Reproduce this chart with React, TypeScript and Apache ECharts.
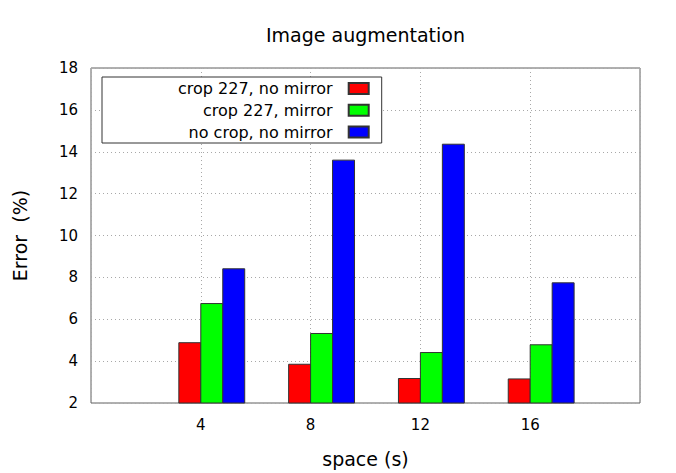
import React, { useEffect, useRef } from "react";
import * as echarts from "echarts";

const titleText = "Image augmentation";
const xName = "space (s)";
const yName = "Error  (%)";
const spaces = [4, 8, 12, 16];
const seriesNames = ["crop 227, no mirror", "crop 227, mirror", "no crop, no mirror"];
const seriesColors = ["#ff0000", "#00ff00", "#0000ff"];
const cropNoMirror = [4.88, 3.85, 3.17, 3.15];
const cropMirror = [6.75, 5.32, 4.41, 4.78];
const noCropNoMirror = [8.41, 13.6, 14.36, 7.74];
const yMin = 2;
const yMax = 18;
const xMin = 0;
const xMax = 20;

const FONT = "'DejaVu Sans', sans-serif";

export default function App() {
  const ref = useRef<HTMLDivElement>(null);
  useEffect(() => {
    document.body.style.margin = "0";
    const chart = echarts.init(ref.current!, null, { renderer: "svg" });
    const allValues = [cropNoMirror, cropMirror, noCropNoMirror];
    const barW = 0.8;
    const offsets = [-0.8, 0, 0.8];
    const series = allValues.map((vals, si) => ({
      type: "custom",
      name: seriesNames[si],
      data: spaces.map((s, i) => [s, vals[i]]),
      itemStyle: { color: seriesColors[si], borderColor: "#333333", borderWidth: 1 },
      renderItem: (params: any, api: any) => {
        const x = api.value(0) + offsets[si];
        const y = api.value(1);
        const p1 = api.coord([x, y]);
        const p2 = api.coord([x + barW, yMin]);
        return {
          type: "rect",
          shape: { x: p1[0], y: p1[1], width: p2[0] - p1[0], height: p2[1] - p1[1] },
          style: { fill: seriesColors[si], stroke: "#333333", lineWidth: 1 },
        };
      },
    }));
    chart.setOption({
      animation: false,
      textStyle: { fontFamily: FONT },
      graphic: [
        {
          type: "text",
          x: 365.5,
          y: 35,
          style: {
            text: titleText,
            align: "center",
            verticalAlign: "middle",
            font: `19px ${FONT}`,
            fill: "#000",
          },
        },
      ],
      grid: {
        left: 91,
        top: 68,
        right: 36,
        bottom: 70,
        show: true,
        borderColor: "#606060",
        borderWidth: 1,
        backgroundColor: "transparent",
      },
      legend: {
        orient: "vertical",
        align: "right",
        left: 102,
        top: 77,
        icon: "rect",
        itemWidth: 20,
        itemHeight: 11,
        itemGap: 5.7,
        padding: [3.6, 12, 3, 76],
        backgroundColor: "#fff",
        borderColor: "#333",
        borderWidth: 1,
        textStyle: { fontFamily: FONT, fontSize: 16, color: "#000", padding: [0, 11, 0, 0] },
        data: seriesNames,
      },
      xAxis: {
        type: "value",
        min: xMin,
        max: xMax,
        interval: 4,
        name: xName,
        nameLocation: "middle",
        nameGap: 46,
        nameTextStyle: { fontFamily: FONT, fontSize: 19, color: "#000" },
        axisLine: { show: false },
        axisTick: { show: false },
        axisLabel: {
          fontFamily: FONT,
          fontSize: 15,
          color: "#000",
          margin: 14,
          formatter: (v: number) => (spaces.includes(v) ? String(v) : ""),
        },
        splitLine: { show: true, lineStyle: { color: "#a8a8a8", type: [1, 3], width: 1 } },
      },
      yAxis: {
        type: "value",
        min: yMin,
        max: yMax,
        interval: 2,
        name: yName,
        nameLocation: "middle",
        nameGap: 62,
        nameTextStyle: { fontFamily: FONT, fontSize: 19, color: "#000" },
        axisLine: { show: false },
        axisTick: { show: false },
        axisLabel: { fontFamily: FONT, fontSize: 15, color: "#000", margin: 13 },
        splitLine: { show: true, lineStyle: { color: "#a8a8a8", type: [1, 3], width: 1 } },
      },
      series,
    });
    return () => chart.dispose();
  }, []);
  return <div ref={ref} style={{ width: 676, height: 473 }} />;
}
